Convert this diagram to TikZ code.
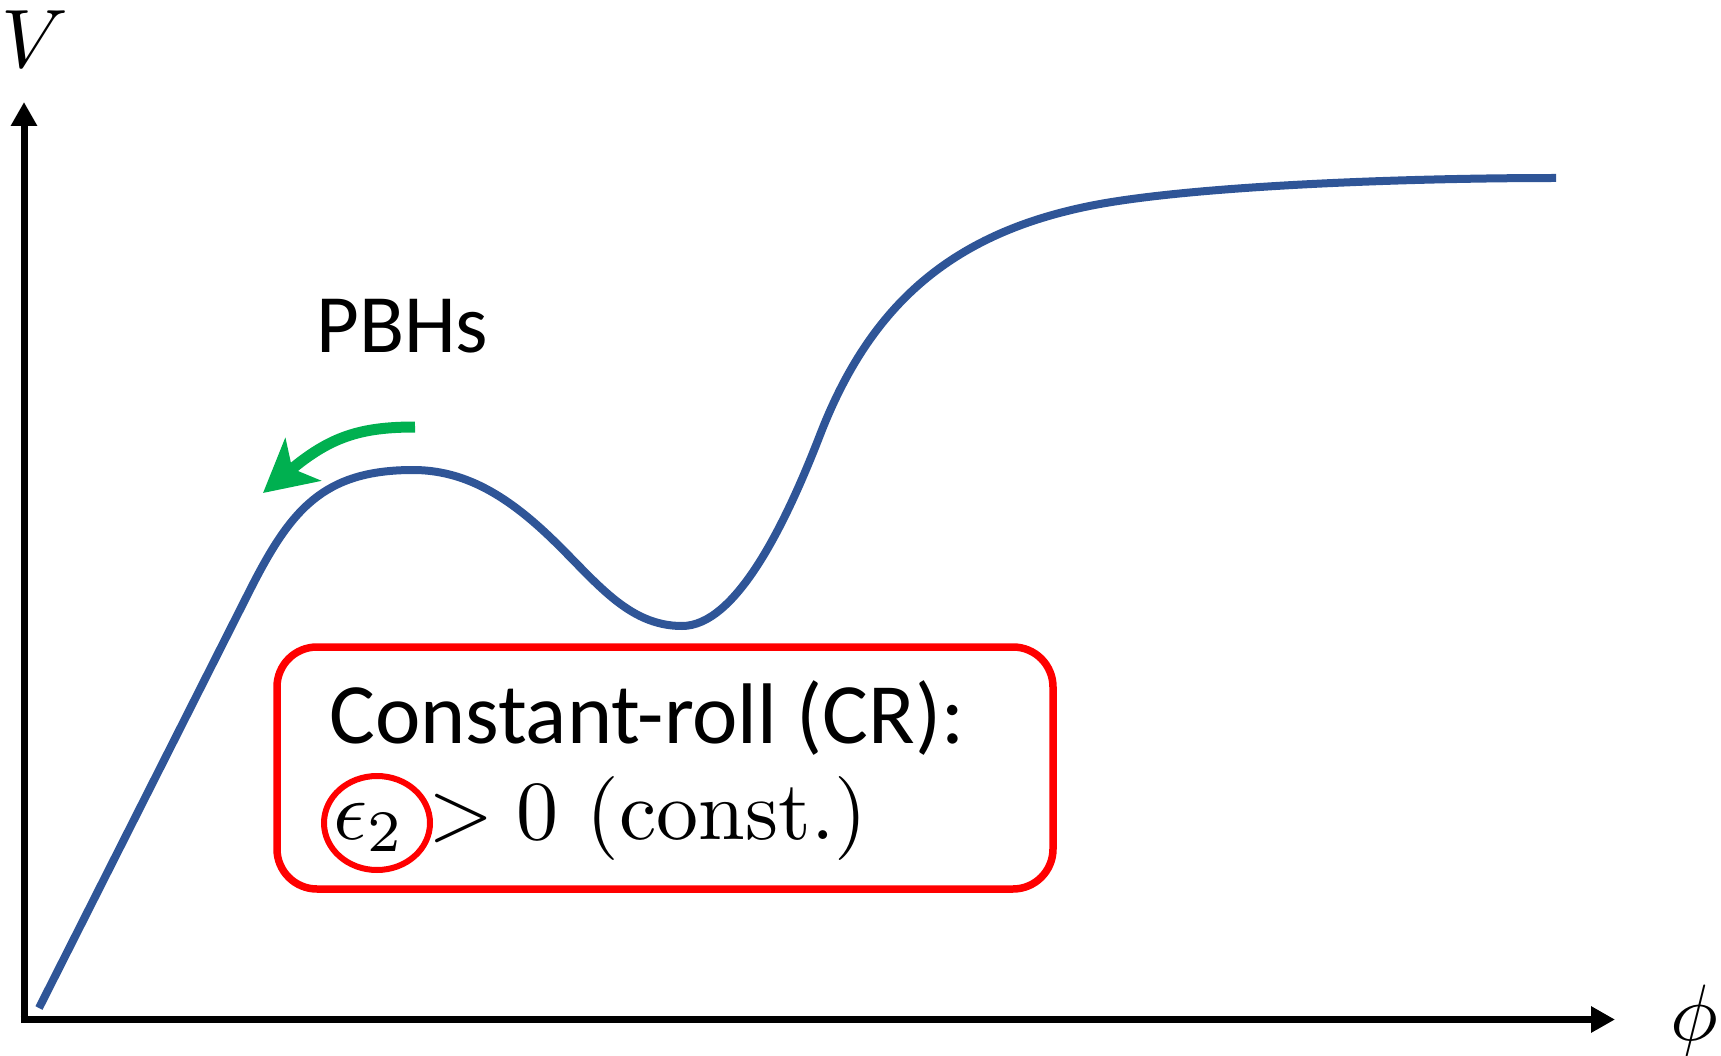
\documentclass[tikz,border=0pt]{standalone}
\usepackage[no-math]{fontspec}
\usepackage{graphicx}
\newfontfamily\labelfont{Carlito}
\usetikzlibrary{arrows.meta}

\definecolor{potblue}{RGB}{47,85,151}
\definecolor{rollgreen}{RGB}{0,176,80}
\definecolor{boxred}{RGB}{255,0,0}

% math set at 10pt and enlarged
\newcommand{\bigmath}[2][8]{\scalebox{#1}{$#2$}}

\tikzset{
  axisline/.style={line width=7pt, -{Triangle[length=24pt,width=25pt]}},
  potential/.style={potblue, line width=8pt, line cap=butt},
  flowarrow/.style={rollgreen, line width=11pt, -{Stealth[length=52pt,width=55pt,inset=14pt]}},
  crbox/.style={boxred, line width=7.5pt, rounded corners=40pt},
  axislabel/.style={inner sep=0pt, anchor=base},
  bigtext/.style={inner sep=0pt, anchor=base west},
}

\begin{document}
\begin{tikzpicture}[x=1pt, y=-1pt]
  \useasboundingbox (0,0) rectangle (1721,1056);

  % axes
  \coordinate (ytip) at (24,102);
  \coordinate (xtip) at (1615,1019.5);
  \coordinate (ybase) at (24,1023);
  \coordinate (xbase) at (20.5,1019.5);
  \draw[axisline] (ybase) -- (ytip);
  \draw[axisline] (xbase) -- (xtip);
  \node[axislabel] (vlabel) at (35,68) {\bigmath[8.3]{V}};
  \node[axislabel] (philabel) at (1694,1040) {\bigmath{\phi}};

  % the potential: linear slope, local maximum, dip, steep rise, plateau
  \coordinate (v0) at (39,1008);
  \coordinate (v1) at (250,590);
  \coordinate (peak) at (413,470);
  \coordinate (v2) at (550,537);
  \coordinate (dip) at (682,626);
  \coordinate (v3) at (820,435);
  \coordinate (v5) at (1100,204);
  \coordinate (plateau) at (1556,178);
  \draw[potential] (v0) -- (v1)
    .. controls (290.5,510) and (323,470) .. (peak)
    .. controls (463,470) and (505,494) .. (v2)
    .. controls (595,580) and (627,626) .. (dip)
    .. controls (735,626) and (784,528) .. (v3)
    .. controls (870.4,304.8) and (952,231) .. (v5)
    .. controls (1200,186) and (1400,178) .. (plateau);

  % rolling direction
  \coordinate (rollstart) at (415,427);
  \coordinate (rollend) at (263,493);
  \draw[flowarrow] (rollstart) .. controls (360,427) and (330,437) .. (rollend);
  \node[bigtext] (pbh) at (316,353) {\labelfont\fontsize{83}{99}\selectfont PBHs};

  % constant-roll box
  \draw[crbox] (277,647) rectangle (1053,889);
  \node[bigtext] (crtitle) at (329,743) {\labelfont\fontsize{86}{104}\selectfont Constant-roll (CR):};
  \node[bigtext] (crcond) at (333,839) {\bigmath[8.4]{\epsilon_2 > 0\ (\mathrm{const.})}};
  \draw[boxred, line width=6pt] (377,823) ellipse [x radius=53pt, y radius=47pt];
\end{tikzpicture}
\end{document}
